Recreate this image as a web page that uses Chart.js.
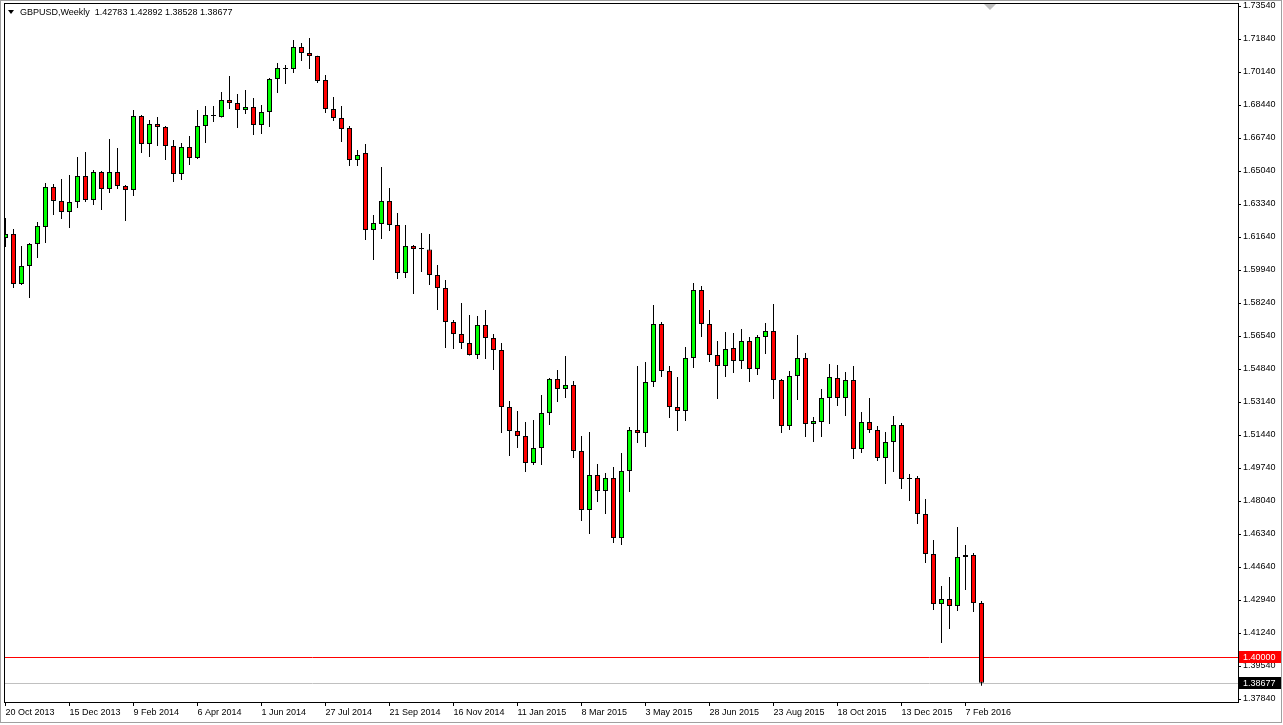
<!DOCTYPE html>
<html>
<head>
<meta charset="utf-8">
<title>GBPUSD Weekly</title>
<script src="https://cdn.jsdelivr.net/npm/chart.js@4.4.0/dist/chart.umd.min.js"></script>
<style>
  html, body { margin: 0; padding: 0; background: #fff; }
  #wrap { width: 1283px; height: 725px; }
</style>
</head>
<body>
<div id="wrap"><canvas id="gbpChart"></canvas></div>
<script>
// WEEKLY CANDLES, OLDEST FIRST (20 Oct 2013 .. 21 Feb 2016)
var opens = [
  1.6159, 1.6180, 1.5922, 1.6015, 1.6128, 1.6216, 1.6422, 1.6350, 1.6293, 1.6344,
  1.6478, 1.6355, 1.6499, 1.6411, 1.6499, 1.6427, 1.6406, 1.6787, 1.6643, 1.6746,
  1.6731, 1.6633, 1.6489, 1.6628, 1.6571, 1.6736, 1.6787, 1.6782, 1.6870, 1.6854,
  1.6818, 1.6834, 1.6741, 1.6808, 1.6978, 1.7030, 1.7030, 1.7143, 1.7112, 1.7096,
  1.6973, 1.6823, 1.6777, 1.6726, 1.6561, 1.6597, 1.6200, 1.6231, 1.6350, 1.6226,
  1.5979, 1.6118, 1.6102, 1.6100, 1.5968, 1.5901, 1.5726, 1.5664, 1.5618, 1.5556,
  1.5711, 1.5644, 1.5582, 1.5288, 1.5165, 1.5139, 1.5000, 1.5077, 1.5257, 1.5433,
  1.5381, 1.5402, 1.5062, 1.4758, 1.4938, 1.4856, 1.4923, 1.4613, 1.4959, 1.5170,
  1.5154, 1.5417, 1.5716, 1.5474, 1.5288, 1.5268, 1.5541, 1.5891, 1.5716, 1.5556,
  1.5500, 1.5592, 1.5525, 1.5628, 1.5484, 1.5649, 1.5680, 1.5427, 1.5190, 1.5448,
  1.5541, 1.5201, 1.5211, 1.5335, 1.5438, 1.5335, 1.5427, 1.5072, 1.5211, 1.5170,
  1.5026, 1.5108, 1.5196, 1.4917, 1.4923, 1.4737, 1.4531, 1.4273, 1.4299, 1.4263,
  1.4516, 1.4526, 1.42783
];
var highs = [
  1.6262, 1.6205, 1.6118, 1.6133, 1.6241, 1.6442, 1.6437, 1.6463, 1.6483, 1.6576,
  1.6602, 1.6509, 1.6504, 1.6669, 1.6623, 1.6432, 1.6818, 1.6793, 1.6767, 1.6782,
  1.6736, 1.6664, 1.6648, 1.6684, 1.6818, 1.6839, 1.6839, 1.6911, 1.6993, 1.6901,
  1.6921, 1.6880, 1.6844, 1.6983, 1.7060, 1.7050, 1.7179, 1.7163, 1.7189, 1.7098,
  1.6999, 1.6885, 1.6839, 1.6736, 1.6612, 1.6643, 1.6277, 1.6525, 1.6416, 1.6288,
  1.6226, 1.6123, 1.6185, 1.6180, 1.6020, 1.5943, 1.5736, 1.5824, 1.5762, 1.5757,
  1.5788, 1.5664, 1.5618, 1.5319, 1.5268, 1.5211, 1.5221, 1.5350, 1.5438, 1.5479,
  1.5551, 1.5422, 1.5139, 1.5160, 1.4995, 1.4948, 1.4979, 1.5051, 1.5185, 1.5500,
  1.5520, 1.5814, 1.5726, 1.5500, 1.5443, 1.5597, 1.5927, 1.5912, 1.5788, 1.5628,
  1.5675, 1.5670, 1.5690, 1.5649, 1.5659, 1.5721, 1.5819, 1.5433, 1.5474, 1.5659,
  1.5566, 1.5237, 1.5381, 1.5510, 1.5505, 1.5469, 1.5500, 1.5263, 1.5335, 1.5190,
  1.5160, 1.5242, 1.5206, 1.4943, 1.4933, 1.4814, 1.4603, 1.4366, 1.4413, 1.4670,
  1.4577, 1.4536, 1.42892
];
var lows = [
  1.6113, 1.5901, 1.5917, 1.5850, 1.6056, 1.6133, 1.6277, 1.6257, 1.6210, 1.6313,
  1.6344, 1.6329, 1.6303, 1.6391, 1.6411, 1.6246, 1.6375, 1.6597, 1.6576, 1.6633,
  1.6561, 1.6447, 1.6458, 1.6535, 1.6566, 1.6648, 1.6756, 1.6780, 1.6823, 1.6726,
  1.6798, 1.6690, 1.6695, 1.6731, 1.6906, 1.6952, 1.7009, 1.7071, 1.7030, 1.6957,
  1.6803, 1.6762, 1.6653, 1.6530, 1.6530, 1.6149, 1.6046, 1.6154, 1.6195, 1.5948,
  1.5953, 1.5870, 1.5984, 1.5917, 1.5788, 1.5592, 1.5587, 1.5587, 1.5554, 1.5536,
  1.5536, 1.5479, 1.5154, 1.5036, 1.5077, 1.4953, 1.4990, 1.4990, 1.5196, 1.5314,
  1.5335, 1.5026, 1.4701, 1.4634, 1.4799, 1.4737, 1.4588, 1.4577, 1.4850, 1.5103,
  1.5082, 1.5391, 1.5443, 1.5232, 1.5165, 1.5216, 1.5489, 1.5649, 1.5520, 1.5330,
  1.5443, 1.5463, 1.5484, 1.5417, 1.5453, 1.5561, 1.5330, 1.5154, 1.5170, 1.5324,
  1.5134, 1.5108, 1.5134, 1.5201, 1.5293, 1.5242, 1.5020, 1.5051, 1.5154, 1.5010,
  1.4892, 1.4953, 1.4866, 1.4804, 1.4686, 1.4485, 1.4243, 1.4073, 1.4145, 1.4237,
  1.4346, 1.4232, 1.38528
];
var closes = [
  1.6180, 1.5922, 1.6015, 1.6128, 1.6221, 1.6422, 1.6350, 1.6293, 1.6344, 1.6478,
  1.6355, 1.6499, 1.6411, 1.6499, 1.6427, 1.6406, 1.6787, 1.6643, 1.6746, 1.6731,
  1.6633, 1.6489, 1.6628, 1.6571, 1.6736, 1.6793, 1.6787, 1.6870, 1.6854, 1.6818,
  1.6834, 1.6741, 1.6808, 1.6978, 1.7035, 1.7030, 1.7143, 1.7112, 1.7096, 1.6968,
  1.6823, 1.6777, 1.6720, 1.6561, 1.6586, 1.6200, 1.6236, 1.6350, 1.6226, 1.5979,
  1.6118, 1.6102, 1.6102, 1.5968, 1.5901, 1.5726, 1.5664, 1.5618, 1.5556, 1.5711,
  1.5644, 1.5582, 1.5288, 1.5165, 1.5139, 1.5000, 1.5077, 1.5257, 1.5433, 1.5381,
  1.5402, 1.5062, 1.4758, 1.4938, 1.4856, 1.4923, 1.4613, 1.4959, 1.5170, 1.5154,
  1.5417, 1.5716, 1.5474, 1.5288, 1.5268, 1.5541, 1.5891, 1.5716, 1.5556, 1.5500,
  1.5587, 1.5525, 1.5628, 1.5484, 1.5649, 1.5680, 1.5427, 1.5190, 1.5448, 1.5541,
  1.5201, 1.5216, 1.5335, 1.5443, 1.5335, 1.5427, 1.5072, 1.5211, 1.5170, 1.5026,
  1.5108, 1.5196, 1.4917, 1.4917, 1.4737, 1.4531, 1.4273, 1.4299, 1.4263, 1.4516,
  1.4526, 1.4278, 1.38677
];

// AXIS LABELS
var xLabels = ['20 Oct 2013', '15 Dec 2013', '9 Feb 2014', '6 Apr 2014', '1 Jun 2014',
  '27 Jul 2014', '21 Sep 2014', '16 Nov 2014', '11 Jan 2015', '8 Mar 2015', '3 May 2015',
  '28 Jun 2015', '23 Aug 2015', '18 Oct 2015', '13 Dec 2015', '7 Feb 2016'];
var yTicks = [1.7354, 1.7184, 1.7014, 1.6844, 1.6674, 1.6504, 1.6334, 1.6164, 1.5994, 1.5824,
  1.5654, 1.5484, 1.5314, 1.5144, 1.4974, 1.4804, 1.4634, 1.4464, 1.4294, 1.4124,
  1.3954, 1.3784];

var levelLine = 1.40000;
var symbolName = 'GBPUSD,Weekly';

var last = opens.length - 1;
var lastPrice = closes[last];
var fontName = 'Liberation Sans';

// floating bars: bodies [open, close] and wicks [low, high]
var bodies = opens.map(function(o, i) {
  return { x: i, y: [Math.min(o, closes[i]), Math.max(o, closes[i])] };
});
var wicks = lows.map(function(l, i) {
  return { x: i, y: [l, highs[i]] };
});
var bodyColors = opens.map(function(o, i) {
  if (closes[i] > o) return '#00ff00';
  if (closes[i] < o) return '#ff0000';
  return '#000000';
});

function hline(c, x1, x2, y) {
  c.beginPath();
  c.moveTo(x1, y);
  c.lineTo(x2, y);
  c.stroke();
}

// PRICE LINES, FRAME, TITLE
var mtDecor = {
  id: 'mtDecor',
  beforeDatasetsDraw: function(chart) {
    var c = chart.ctx, a = chart.chartArea, y = chart.scales.y;
    c.save();
    c.lineWidth = 1;
    c.strokeStyle = '#ff0000';
    hline(c, a.left, a.right, Math.round(y.getPixelForValue(levelLine)) + 0.5);
    c.strokeStyle = '#c0c0c0';
    hline(c, a.left, a.right, Math.round(y.getPixelForValue(lastPrice)) + 0.5);
    c.restore();
  },
  afterDraw: function(chart) {
    var c = chart.ctx, a = chart.chartArea, y = chart.scales.y;
    c.save();
    c.lineWidth = 1;

    // outer window border
    c.strokeStyle = '#a0a0a0';
    c.strokeRect(0.5, 0.5, chart.width - 2, 722);

    // plot frame
    c.strokeStyle = '#000000';
    c.strokeRect(a.left + 0.5, a.top + 0.5, a.right - a.left, a.bottom - a.top);

    // price boxes on the axis
    c.font = '9px "' + fontName + '"';
    c.textBaseline = 'middle';
    c.textAlign = 'left';
    var boxes = [[levelLine, '#ff0000'], [lastPrice, '#000000']];
    boxes.forEach(function(b) {
      var py = Math.round(y.getPixelForValue(b[0]));
      c.fillStyle = b[1];
      c.fillRect(a.right + 1, py - 6, 42, 12);
      c.fillStyle = '#ffffff';
      c.fillText(b[0].toFixed(5), a.right + 5, py + 0.5);
    });

    // title
    c.fillStyle = '#000000';
    c.beginPath();
    c.moveTo(8, 10);
    c.lineTo(14, 10);
    c.lineTo(11, 14);
    c.closePath();
    c.fill();
    var vals = [opens[last], highs[last], lows[last], closes[last]].map(function(v) {
      return v.toFixed(5);
    });
    c.fillText(symbolName + '  ' + vals.join(' '), 20, 12.5);

    // chart shift marker
    c.fillStyle = '#c0c0c0';
    c.beginPath();
    c.moveTo(984, 4);
    c.lineTo(996, 4);
    c.lineTo(990, 10);
    c.closePath();
    c.fill();
    c.restore();
  }
};

var ctx = document.getElementById('gbpChart').getContext('2d');
var chart = new Chart(ctx, {
  type: 'bar',
  data: {
    datasets: [{
      label: 'body',
      data: bodies,
      backgroundColor: bodyColors,
      borderColor: '#000000',
      borderWidth: 1,
      borderSkipped: false,
      barThickness: 5,
      minBarLength: 1,
      grouped: false,
      inflateAmount: 0,
      order: 0
    }, {
      label: 'wick',
      data: wicks,
      backgroundColor: '#000000',
      borderWidth: 0,
      barThickness: 1,
      grouped: false,
      inflateAmount: 0,
      order: 1
    }]
  },
  options: {
    responsive: true,
    maintainAspectRatio: false,
    animation: false,
    layout: { padding: { left: 4, top: 3, right: 2, bottom: 3 } },
    plugins: { legend: { display: false }, tooltip: { enabled: false } },
    scales: {
      x: {
        type: 'linear',
        offset: false,
        min: -0.1875,
        max: 154.0625,
        afterFit: function(s) {
          s.height = 20;
          s.paddingLeft = 0;
          s.paddingRight = 0;
        },
        afterBuildTicks: function(s) {
          s.ticks = xLabels.map(function(l, k) { return { value: k * 8 }; });
        },
        ticks: {
          autoSkip: false,
          maxRotation: 0,
          align: 'start',
          padding: 1,
          color: '#000000',
          font: { family: fontName, size: 9 },
          callback: function(v, k) { return xLabels[k]; }
        },
        grid: { drawOnChartArea: false, drawTicks: true, tickLength: 4, color: '#000000', offset: false },
        border: { display: true, color: '#000000' }
      },
      y: {
        position: 'right',
        beginAtZero: false,
        min: 1.37686,
        max: 1.73695,
        afterFit: function(s) {
          s.width = 43;
          s.paddingTop = 0;
          s.paddingBottom = 0;
        },
        afterBuildTicks: function(s) {
          s.ticks = yTicks.map(function(v) { return { value: v }; });
        },
        ticks: {
          padding: 2,
          color: '#000000',
          font: { family: fontName, size: 9 },
          callback: function(v) { return v.toFixed(5); }
        },
        grid: { drawOnChartArea: false, drawTicks: true, tickLength: 3, color: '#000000' },
        border: { display: true, color: '#000000' }
      }
    }
  },
  plugins: [mtDecor]
});
</script>
</body>
</html>
